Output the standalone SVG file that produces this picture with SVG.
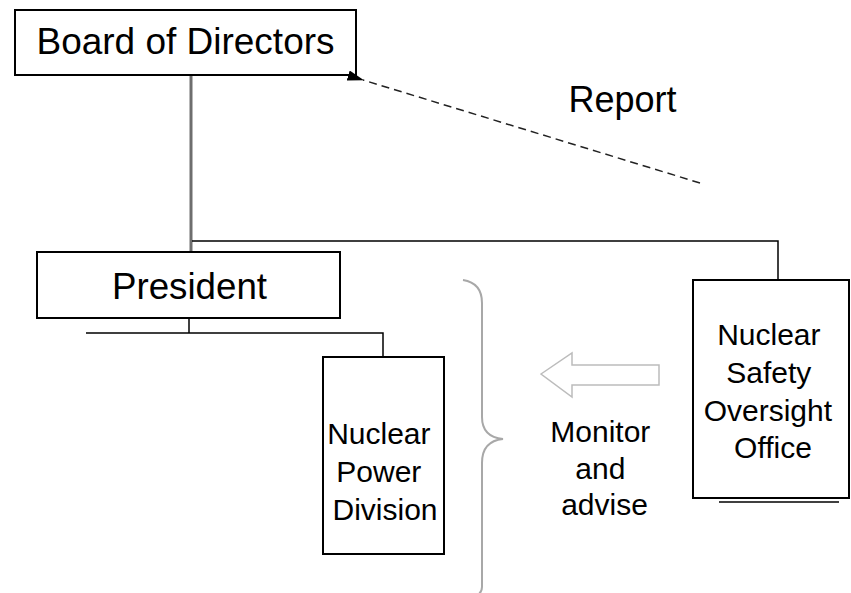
<svg xmlns="http://www.w3.org/2000/svg" width="851" height="593" viewBox="0 0 851 593">
<style>
.box{fill:#fff;stroke:#000;stroke-width:2}
.t{font-family:"Liberation Sans",Arial,sans-serif;fill:#000;text-anchor:middle}
.ln{fill:none;stroke:#000;stroke-width:1.5}
</style>
<defs>
<marker id="ah" viewBox="0 0 16 10" refX="1" refY="5" markerWidth="11" markerHeight="7" orient="auto">
<path d="M16,0 L0,5 L16,10 Z" fill="#000"/>
</marker>
</defs>
<rect width="851" height="593" fill="#fff"/>
<g id="board">
<rect class="box" x="15" y="10" width="341" height="65"/>
<text class="t" x="185.5" y="54" font-size="36" textLength="298" lengthAdjust="spacingAndGlyphs">Board of Directors</text>
</g>
<g id="president">
<rect class="box" x="37" y="252" width="303" height="66"/>
<text class="t" x="189.5" y="299" font-size="36" textLength="155" lengthAdjust="spacingAndGlyphs">President</text>
</g>
<g id="npd">
<rect class="box" x="323" y="357" width="121" height="197"/>
<text class="t" font-size="30">
<tspan x="383" y="444">Nuclear</tspan>
<tspan x="383" y="482">Power</tspan>
<tspan x="385" y="520">Division</tspan>
</text>
</g>
<g id="nsoo">
<rect class="box" x="693" y="280" width="156" height="218"/>
<line x1="719" y1="502" x2="839" y2="502" stroke="#000" stroke-width="1.5"/>
<text class="t" font-size="30">
<tspan x="773" y="345">Nuclear</tspan>
<tspan x="773" y="383">Safety</tspan>
<tspan x="772" y="421">Oversight</tspan>
<tspan x="773" y="458">Office</tspan>
</text>
</g>
<g id="labels">
<text class="t" x="622.5" y="112" font-size="36">Report</text>
<text class="t" font-size="30">
<tspan x="604.5" y="442">Monitor</tspan>
<tspan x="604.5" y="479">and</tspan>
<tspan x="604.5" y="515">advise</tspan>
</text>
</g>
<g id="connectors">
<line x1="191" y1="76" x2="191" y2="251" stroke="#6e6e6e" stroke-width="3"/>
<polyline class="ln" points="192,241 778,241 778,279"/>
<line class="ln" x1="189" y1="319" x2="189" y2="333" stroke-width="2"/>
<polyline class="ln" points="86,333 383,333 383,356"/>
<line x1="700" y1="183" x2="363" y2="80" stroke="#222" stroke-width="1.5" stroke-dasharray="8,5" marker-end="url(#ah)"/>
<path d="M463,280 Q482,283 482,303 L482,417 Q482,437 503,439 Q482,441 482,463 L482,587 Q482,593 476,596" fill="none" stroke="#a8a8a8" stroke-width="2"/>
<path d="M541,374 L572,353 L572,365 L659,365 L659,385 L572,385 L572,397 Z" fill="#fff" stroke="#bcbcbc" stroke-width="1.5"/>
</g>
</svg>
